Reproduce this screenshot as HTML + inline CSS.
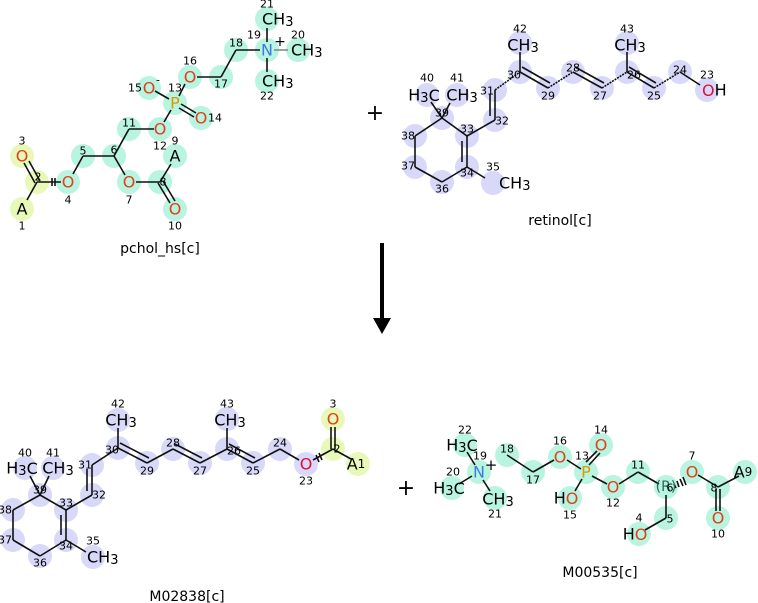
<!DOCTYPE html>
<html><head><meta charset="utf-8"><style>
html,body{margin:0;padding:0;background:#fff}
svg{display:block}
text{font-family:"DejaVu Sans","Liberation Sans",sans-serif}
.a{font-size:16px;text-anchor:middle;dominant-baseline:central}
.n{font-size:11px;text-anchor:middle;dominant-baseline:central;fill:#000}
.t{font-size:14px;text-anchor:middle}
.O{fill:#e0401c}.P{fill:#d99a00}.N{fill:#3a7de0}
.c{fill:#b8f4df}.l{fill:#d8d8f8}.y{fill:#e8f8b8}
line{stroke:#111;stroke-width:1.6}
</style></head><body>
<svg width="758" height="603" viewBox="0 0 758 603">
<!-- Molecule 1 circles -->
<g>
<circle class="y" cx="22" cy="209" r="12"/><circle class="y" cx="37" cy="182" r="12"/><circle class="y" cx="22" cy="156" r="12"/>
<circle class="c" cx="68" cy="182" r="12"/><circle class="c" cx="83" cy="156" r="12"/><circle class="c" cx="114" cy="156" r="12"/>
<circle class="c" cx="129" cy="182" r="12"/><circle class="c" cx="160" cy="182" r="12"/><circle class="c" cx="175" cy="156" r="12"/>
<circle class="c" cx="175" cy="209" r="12"/><circle class="c" cx="129" cy="129" r="12"/><circle class="c" cx="160" cy="129" r="12"/>
<circle class="c" cx="175" cy="103" r="12"/><circle class="c" cx="201" cy="118" r="12"/><circle class="c" cx="149" cy="88" r="12"/>
<circle class="c" cx="190" cy="77" r="12"/><circle class="c" cx="221" cy="77" r="12"/><circle class="c" cx="236" cy="50" r="12"/>
<circle class="c" cx="267" cy="50" r="12"/><circle class="c" cx="298" cy="50" r="12"/><circle class="c" cx="267" cy="19" r="12"/>
<circle class="c" cx="267" cy="81" r="12"/>
</g>
<g>
<line x1="27" y1="200" x2="37" y2="182"/>
<line x1="35" y1="183" x2="24" y2="163"/><line x1="40" y1="181" x2="29" y2="161"/>
<line x1="37" y1="182" x2="61" y2="182"/>
<line x1="52" y1="178" x2="52" y2="186"/><line x1="55" y1="178" x2="55" y2="186"/>
<line x1="73" y1="174" x2="83" y2="156"/><line x1="83" y1="156" x2="114" y2="156"/>
<line x1="114" y1="156" x2="125" y2="175"/><line x1="136" y1="182" x2="160" y2="182"/>
<line x1="160" y1="182" x2="171" y2="164"/>
<line x1="158" y1="183" x2="170" y2="203"/><line x1="163" y1="181" x2="175" y2="201"/>
<line x1="114" y1="156" x2="129" y2="129"/><line x1="129" y1="129" x2="154" y2="129"/>
<line x1="164" y1="122" x2="171" y2="110"/>
<line x1="181" y1="104" x2="196" y2="113"/><line x1="179" y1="108" x2="194" y2="117"/>
<line x1="169" y1="99" x2="155" y2="91"/><line x1="179" y1="96" x2="185" y2="84"/>
<line x1="197" y1="77" x2="221" y2="77"/><line x1="221" y1="77" x2="236" y2="50"/>
<line x1="236" y1="50" x2="260" y2="50"/><line x1="274" y1="50" x2="288" y2="50" style="stroke:#888"/>
<line x1="267" y1="42" x2="267" y2="28"/><line x1="267" y1="58" x2="267" y2="72"/>
</g>
<g>
<text class="a" x="22" y="209">A</text><text class="a O" x="22" y="156">O</text><text class="a O" x="68" y="182">O</text>
<text class="a O" x="129" y="182">O</text><text class="a" x="175" y="156">A</text><text class="a O" x="175" y="209">O</text>
<text class="a O" x="160" y="129">O</text><text class="a P" x="175" y="103">P</text><text class="a O" x="201" y="118">O</text>
<text class="a O" x="149" y="88">O</text><text class="a O" x="190" y="77">O</text><text class="a N" x="267" y="50">N</text>
<text class="a" x="291" y="50" style="text-anchor:start">CH<tspan font-size="13" dy="3">3</tspan></text>
<text class="a" x="262" y="19" style="text-anchor:start">CH<tspan font-size="13" dy="3">3</tspan></text>
<text class="a" x="262" y="81" style="text-anchor:start">CH<tspan font-size="13" dy="3">3</tspan></text>
<text class="n" x="22" y="226">1</text><text class="n" x="38" y="177">2</text><text class="n" x="22" y="141">3</text>
<text class="n" x="68" y="200">4</text><text class="n" x="83" y="151">5</text><text class="n" x="114" y="150">6</text>
<text class="n" x="129" y="200">7</text><text class="n" x="163" y="182">8</text><text class="n" x="175" y="141">9</text>
<text class="n" x="175" y="226">10</text><text class="n" x="129" y="123">11</text><text class="n" x="160" y="146">12</text>
<text class="n" x="175" y="88">13</text><text class="n" x="215" y="118">14</text><text class="n" x="135" y="88">15</text>
<text class="n" x="158" y="80">-</text>
<text class="n" x="190" y="61">16</text><text class="n" x="221" y="84">17</text><text class="n" x="236" y="43">18</text>
<text class="n" x="254" y="35">19</text><text class="n" x="280" y="42" style="font-size:14px">+</text><text class="n" x="298" y="35">20</text>
<text class="n" x="267" y="4">21</text><text class="n" x="267" y="96">22</text>
<text class="t" x="160" y="253">pchol_hs[c]</text>
</g>

<!-- plus 1 -->
<text x="375" y="120" style="font-size:22px;text-anchor:middle">+</text>

<!-- Molecule 2: retinol -->
<g>
<circle class="l" cx="427" cy="95" r="12"/><circle class="l" cx="457" cy="95" r="12"/><circle class="l" cx="442" cy="118" r="12"/>
<circle class="l" cx="415" cy="136" r="12"/><circle class="l" cx="415" cy="167" r="12"/><circle class="l" cx="442" cy="182" r="12"/>
<circle class="l" cx="467" cy="167" r="12"/><circle class="l" cx="467" cy="136" r="12"/><circle class="l" cx="493" cy="183" r="12"/>
<circle class="l" cx="495" cy="120" r="12"/><circle class="l" cx="495" cy="90" r="12"/><circle class="l" cx="520" cy="72" r="12"/>
<circle class="l" cx="520" cy="43" r="12"/><circle class="l" cx="548" cy="88" r="12"/><circle class="l" cx="573" cy="72" r="12"/>
<circle class="l" cx="602" cy="88" r="12"/><circle class="l" cx="627" cy="72" r="12"/><circle class="l" cx="627" cy="43" r="12"/>
<circle class="l" cx="654" cy="88" r="12"/><circle class="l" cx="680" cy="72" r="12"/><circle class="l" cx="707" cy="90" r="12"/>
</g>
<g>
<line x1="442" y1="118" x2="431" y2="102"/><line x1="442" y1="118" x2="450" y2="103"/>
<line x1="442" y1="118" x2="415" y2="136"/><line x1="415" y1="136" x2="415" y2="167"/>
<line x1="415" y1="167" x2="442" y2="182"/><line x1="442" y1="182" x2="467" y2="167"/>
<line x1="467" y1="167" x2="467" y2="136"/><line x1="462" y1="162" x2="462" y2="141"/>
<line x1="467" y1="136" x2="442" y2="118"/><line x1="467" y1="167" x2="485" y2="178"/>
<line x1="467" y1="136" x2="495" y2="120"/>
<line x1="495" y1="120" x2="495" y2="90"/><line x1="490" y1="116" x2="490" y2="94"/>
<line x1="495" y1="90" x2="520" y2="72" stroke-dasharray="2 1"/>
<line x1="520" y1="72" x2="520" y2="52"/>
<line x1="520" y1="72" x2="548" y2="88"/><line x1="522" y1="67" x2="550" y2="83"/>
<line x1="548" y1="88" x2="573" y2="72" stroke-dasharray="2 1"/>
<line x1="573" y1="72" x2="602" y2="88"/><line x1="575" y1="67" x2="604" y2="83"/>
<line x1="602" y1="88" x2="627" y2="72" stroke-dasharray="2 1"/>
<line x1="627" y1="72" x2="627" y2="52"/>
<line x1="627" y1="72" x2="654" y2="88"/><line x1="629" y1="67" x2="656" y2="83"/>
<line x1="654" y1="88" x2="680" y2="72" stroke-dasharray="2 1"/>
<line x1="680" y1="72" x2="700" y2="85"/>
</g>
<g>
<text class="a" x="424" y="95">H<tspan font-size="13" dy="3">3</tspan><tspan dy="-3">C</tspan></text>
<text class="a" x="462" y="95">CH<tspan font-size="13" dy="3">3</tspan></text>
<text class="a" x="523" y="45">CH<tspan font-size="13" dy="3">3</tspan></text>
<text class="a" x="630" y="45">CH<tspan font-size="13" dy="3">3</tspan></text>
<text class="a" x="499" y="183" style="text-anchor:start">CH<tspan font-size="13" dy="3">3</tspan></text>
<text class="a" x="702" y="90" style="text-anchor:start"><tspan class="O" style="fill:#e0103c">O</tspan>H</text>
<text class="n" x="427" y="78">40</text><text class="n" x="457" y="78">41</text><text class="n" x="442" y="113">39</text>
<text class="n" x="408" y="136">38</text><text class="n" x="408" y="166">37</text><text class="n" x="442" y="189">36</text>
<text class="n" x="467" y="173">34</text><text class="n" x="467" y="129">33</text><text class="n" x="493" y="167">35</text>
<text class="n" x="502" y="121">32</text><text class="n" x="487" y="91">31</text><text class="n" x="514" y="75">30</text>
<text class="n" x="520" y="29">42</text><text class="n" x="548" y="96">29</text><text class="n" x="573" y="68">28</text>
<text class="n" x="600" y="96">27</text><text class="n" x="634" y="75">26</text><text class="n" x="627" y="29">43</text>
<text class="n" x="654" y="96">25</text><text class="n" x="680" y="70">24</text><text class="n" x="707" y="75">23</text>
<text class="t" x="560" y="225">retinol[c]</text>
</g>

<!-- arrow -->
<line x1="382" y1="243" x2="382" y2="320" style="stroke:#000;stroke-width:4"/>
<polygon points="373,318 391,318 382,334" fill="#000"/>

<!-- Molecule 3: M02838 -->
<g>
<circle class="l" cx="25" cy="468" r="12"/><circle class="l" cx="53" cy="468" r="12"/><circle class="l" cx="40" cy="495" r="12"/>
<circle class="l" cx="13" cy="510" r="12"/><circle class="l" cx="13" cy="540" r="12"/><circle class="l" cx="40" cy="556" r="12"/>
<circle class="l" cx="66" cy="540" r="12"/><circle class="l" cx="66" cy="510" r="12"/><circle class="l" cx="93" cy="557" r="12"/>
<circle class="l" cx="92" cy="495" r="12"/><circle class="l" cx="92" cy="465" r="12"/><circle class="l" cx="118" cy="448" r="12"/>
<circle class="l" cx="118" cy="420" r="12"/><circle class="l" cx="147" cy="463" r="12"/><circle class="l" cx="173" cy="449" r="12"/>
<circle class="l" cx="200" cy="463" r="12"/><circle class="l" cx="227" cy="449" r="12"/><circle class="l" cx="227" cy="419" r="12"/>
<circle class="l" cx="253" cy="463" r="12"/><circle class="l" cx="280" cy="449" r="12"/><circle class="l" cx="306" cy="464" r="12"/>
<circle class="y" cx="333" cy="449" r="12"/><circle class="y" cx="333" cy="419" r="12"/><circle class="y" cx="358" cy="464" r="12"/>
</g>
<g>
<line x1="40" y1="495" x2="30" y2="476"/><line x1="40" y1="495" x2="49" y2="476"/>
<line x1="40" y1="495" x2="13" y2="510"/><line x1="13" y1="510" x2="13" y2="540"/>
<line x1="13" y1="540" x2="40" y2="556"/><line x1="40" y1="556" x2="66" y2="540"/>
<line x1="66" y1="540" x2="66" y2="510"/><line x1="61" y1="535" x2="61" y2="515"/>
<line x1="66" y1="510" x2="40" y2="495"/><line x1="66" y1="540" x2="86" y2="552"/>
<line x1="66" y1="510" x2="92" y2="495"/>
<line x1="92" y1="495" x2="92" y2="465"/><line x1="87" y1="491" x2="87" y2="469"/>
<line x1="92" y1="465" x2="118" y2="448"/><line x1="118" y1="448" x2="118" y2="428"/>
<line x1="118" y1="448" x2="147" y2="463"/><line x1="120" y1="443" x2="149" y2="458"/>
<line x1="147" y1="463" x2="173" y2="449"/>
<line x1="173" y1="449" x2="200" y2="463"/><line x1="175" y1="444" x2="202" y2="458"/>
<line x1="200" y1="463" x2="227" y2="449"/><line x1="227" y1="449" x2="227" y2="428"/>
<line x1="227" y1="449" x2="253" y2="463"/><line x1="229" y1="444" x2="255" y2="458"/>
<line x1="253" y1="463" x2="280" y2="449"/><line x1="280" y1="449" x2="299" y2="460"/>
<line x1="313" y1="460" x2="333" y2="449"/>
<line x1="316" y1="455" x2="319" y2="462"/><line x1="319" y1="453" x2="322" y2="460"/>
<line x1="331" y1="449" x2="331" y2="427"/><line x1="335" y1="449" x2="335" y2="427"/>
<line x1="333" y1="449" x2="351" y2="459"/>
</g>
<g>
<text class="a" x="22" y="468">H<tspan font-size="13" dy="3">3</tspan><tspan dy="-3">C</tspan></text>
<text class="a" x="58" y="468">CH<tspan font-size="13" dy="3">3</tspan></text>
<text class="a" x="121" y="420">CH<tspan font-size="13" dy="3">3</tspan></text>
<text class="a" x="230" y="420">CH<tspan font-size="13" dy="3">3</tspan></text>
<text class="a" x="87" y="557" style="text-anchor:start">CH<tspan font-size="13" dy="3">3</tspan></text>
<text class="a" x="306" y="464" style="fill:#e0103c">O</text><text class="a O" x="333" y="419">O</text>
<text class="a" x="356" y="464">A<tspan font-size="12">1</tspan></text>
<text class="n" x="25" y="453">40</text><text class="n" x="53" y="453">41</text><text class="n" x="40" y="490">39</text>
<text class="n" x="5" y="510">38</text><text class="n" x="5" y="540">37</text><text class="n" x="40" y="563">36</text>
<text class="n" x="66" y="546">34</text><text class="n" x="66" y="503">33</text><text class="n" x="93" y="541">35</text>
<text class="n" x="99" y="495">32</text><text class="n" x="85" y="465">31</text><text class="n" x="112" y="450">30</text>
<text class="n" x="118" y="404">42</text><text class="n" x="147" y="471">29</text><text class="n" x="173" y="443">28</text>
<text class="n" x="200" y="471">27</text><text class="n" x="234" y="451">26</text><text class="n" x="227" y="404">43</text>
<text class="n" x="253" y="471">25</text><text class="n" x="280" y="443">24</text><text class="n" x="306" y="481">23</text>
<text class="n" x="337" y="449">2</text><text class="n" x="333" y="404">3</text>
<text class="t" x="187" y="601">M02838[c]</text>
</g>

<!-- plus 2 -->
<text x="406" y="495" style="font-size:22px;text-anchor:middle">+</text>

<!-- Molecule 4: M00535 -->
<g>
<circle class="c" cx="465" cy="445" r="12"/><circle class="c" cx="479" cy="472" r="12"/><circle class="c" cx="452" cy="488" r="12"/>
<circle class="c" cx="495" cy="498" r="12"/><circle class="c" cx="507" cy="455" r="12"/><circle class="c" cx="533" cy="472" r="12"/>
<circle class="c" cx="560" cy="457" r="12"/><circle class="c" cx="586" cy="472" r="12"/><circle class="c" cx="601" cy="445" r="12"/>
<circle class="c" cx="570" cy="498" r="12"/><circle class="c" cx="613" cy="487" r="12"/><circle class="c" cx="638" cy="472" r="12"/>
<circle class="c" cx="666" cy="487" r="12"/><circle class="c" cx="666" cy="518" r="12"/><circle class="c" cx="639" cy="534" r="12"/>
<circle class="c" cx="692" cy="472" r="12"/><circle class="c" cx="718" cy="487" r="12"/><circle class="c" cx="745" cy="472" r="12"/>
<circle class="c" cx="718" cy="518" r="12"/>
</g>
<g>
<line x1="475" y1="465" x2="467" y2="452"/><line x1="472" y1="476" x2="459" y2="484"/>
<line x1="483" y1="480" x2="490" y2="491"/>
<line x1="507" y1="455" x2="533" y2="472"/><line x1="533" y1="472" x2="554" y2="460"/>
<line x1="567" y1="460" x2="581" y2="469"/>
<line x1="586" y1="462" x2="597" y2="451"/><line x1="589" y1="465" x2="600" y2="453"/>
<line x1="582" y1="479" x2="575" y2="491"/><line x1="592" y1="476" x2="607" y2="484"/>
<line x1="619" y1="484" x2="638" y2="472"/><line x1="638" y1="472" x2="659" y2="484"/>
<line x1="666" y1="495" x2="666" y2="518"/><line x1="666" y1="518" x2="645" y2="530"/>
<g stroke-width="1"><line x1="674" y1="484" x2="676" y2="488"/><line x1="677" y1="481" x2="679" y2="487"/><line x1="680" y1="479" x2="683" y2="486"/><line x1="683" y1="477" x2="686" y2="485"/></g>
<line x1="698" y1="475" x2="718" y2="487"/><line x1="718" y1="487" x2="739" y2="476"/>
<line x1="716" y1="489" x2="716" y2="511"/><line x1="720" y1="489" x2="720" y2="511"/>
</g>
<g>
<text class="a" x="462" y="445">H<tspan font-size="13" dy="3">3</tspan><tspan dy="-3">C</tspan></text>
<text class="a" x="449" y="488">H<tspan font-size="13" dy="3">3</tspan><tspan dy="-3">C</tspan></text>
<text class="a" x="498" y="499">CH<tspan font-size="13" dy="3">3</tspan></text>
<text class="a N" x="479" y="472">N</text><text class="a O" x="560" y="457">O</text><text class="a P" x="586" y="472">P</text>
<text class="a O" x="601" y="445">O</text><text class="a" x="566" y="498">H<tspan class="O">O</tspan></text>
<text class="a O" x="613" y="487">O</text><text class="a" x="666" y="487" style="fill:#2a6a5a;font-size:14px">(R)</text>
<text class="a" x="635" y="534">H<tspan class="O">O</tspan></text>
<text class="a O" x="692" y="472">O</text><text class="a" x="743" y="472">A<tspan font-size="12">9</tspan></text>
<text class="a O" x="718" y="518">O</text>
<text class="n" x="465" y="430">22</text><text class="n" x="480" y="456">19</text><text class="n" x="491" y="465" style="font-size:15px">+</text>
<text class="n" x="453" y="472">20</text><text class="n" x="495" y="514">21</text><text class="n" x="507" y="449">18</text>
<text class="n" x="533" y="480">17</text><text class="n" x="560" y="441">16</text><text class="n" x="582" y="456">13</text>
<text class="n" x="601" y="430">14</text><text class="n" x="570" y="515">15</text><text class="n" x="613" y="503">12</text>
<text class="n" x="638" y="465">11</text><text class="n" x="670" y="488">6</text><text class="n" x="670" y="519">5</text>
<text class="n" x="639" y="518">4</text><text class="n" x="692" y="456">7</text><text class="n" x="714" y="488">8</text>
<text class="n" x="718" y="534">10</text>
<text class="t" x="600" y="577">M00535[c]</text>
</g>
</svg>
</body></html>
